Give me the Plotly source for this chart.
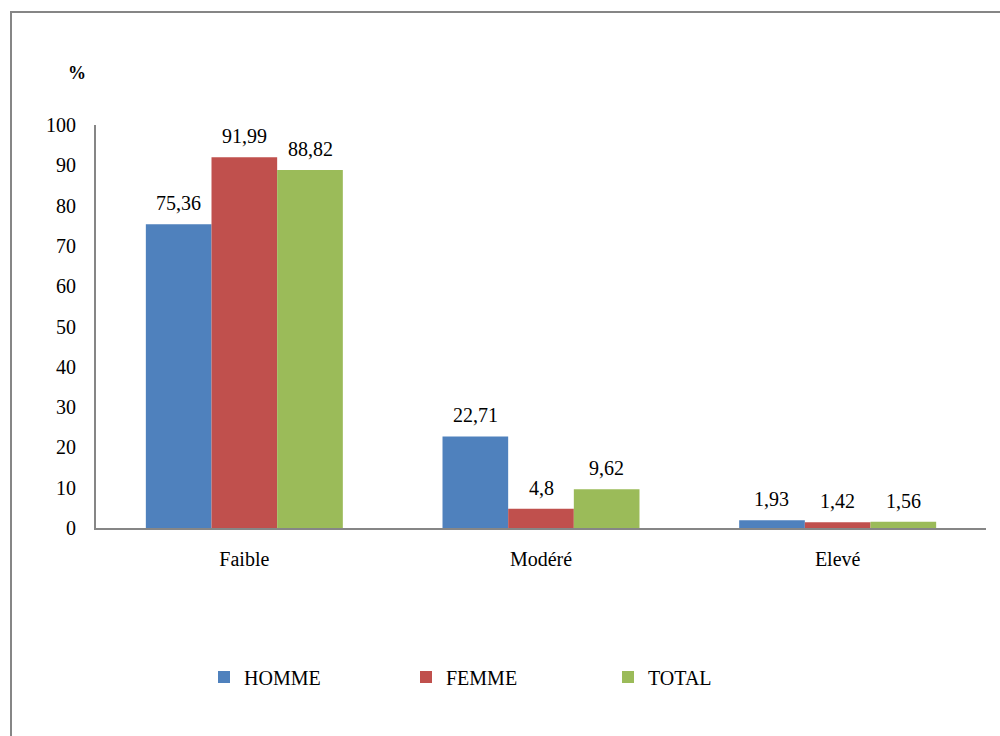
import plotly.graph_objects as go

categories = ["Faible", "Modéré", "Elevé"]
homme = [75.36, 22.71, 1.93]
femme = [91.99, 4.80, 1.42]
total = [88.82, 9.62, 1.56]
series_names = ["HOMME", "FEMME", "TOTAL"]
y_ticks = [0, 10, 20, 30, 40, 50, 60, 70, 80, 90, 100]

colors = ["#4F81BD", "#C0504D", "#9BBB59"]
FONT = "Liberation Serif"
FS = 20


def fr(v):
    s = f"{v:.2f}".rstrip("0").rstrip(".")
    return s.replace(".", ",")


# plot area: x 96..986, y 125..528 in a 1000x736 canvas
L, R, T, B = 96, 14, 125, 208
PW, PH = 1000 - L - R, 736 - T - B
BAR_PX = 65.7  # width of one bar in pixels


def px(x):
    return (x - L) / PW


def py(y):
    return (736 - B - y) / PH


fig = go.Figure()
annotations = []
all_series = [homme, femme, total]
for i, (name, vals, col) in enumerate(zip(series_names, all_series, colors)):
    fig.add_trace(go.Bar(
        x=categories, y=vals, name=name,
        marker=dict(color=col, line=dict(width=0)),
    ))
    # value labels above each bar
    for cat, v in zip(categories, vals):
        annotations.append(dict(
            x=cat, y=v, xref="x", yref="y", text=fr(v),
            xshift=(i - 1) * BAR_PX, yshift=8,
            xanchor="center", yanchor="bottom", showarrow=False,
            font=dict(family=FONT, size=FS, color="#000000"),
        ))

annotations.append(dict(
    text="<b>%</b>", xref="paper", yref="paper",
    x=px(77), y=py(73), xanchor="center", yanchor="middle",
    showarrow=False, font=dict(family=FONT, size=18, color="#000000"),
))

fig.update_layout(
    width=1000, height=736,
    margin=dict(l=L, r=R, t=T, b=B),
    paper_bgcolor="white", plot_bgcolor="white",
    barmode="group", bargap=0.336, bargroupgap=0,
    font=dict(family=FONT, size=FS, color="#000000"),
    showlegend=True,
    legend=dict(
        orientation="h", x=px(204), xanchor="left", y=py(677), yanchor="middle",
        font=dict(family=FONT, size=FS, color="#000000"),
        entrywidth=157, entrywidthmode="pixels", itemwidth=30,
        bgcolor="rgba(0,0,0,0)",
    ),
    xaxis=dict(
        showline=True, linecolor="#868686", linewidth=2,
        showgrid=False, ticks="", zeroline=False,
        ticklabelstandoff=12,
        tickfont=dict(family=FONT, size=FS, color="#000000"),
    ),
    yaxis=dict(
        range=[0, 100], tickvals=y_ticks,
        showline=True, linecolor="#868686", linewidth=2,
        showgrid=False, ticks="", zeroline=False,
        ticklabelstandoff=14,
        tickfont=dict(family=FONT, size=FS, color="#000000"),
    ),
    shapes=[dict(
        type="rect", xref="paper", yref="paper",
        x0=px(11), x1=px(1010), y0=py(750), y1=py(12),
        line=dict(color="#868686", width=2), fillcolor="rgba(0,0,0,0)",
        layer="below",
    )],
    annotations=annotations,
)

fig.write_html("out.html")
